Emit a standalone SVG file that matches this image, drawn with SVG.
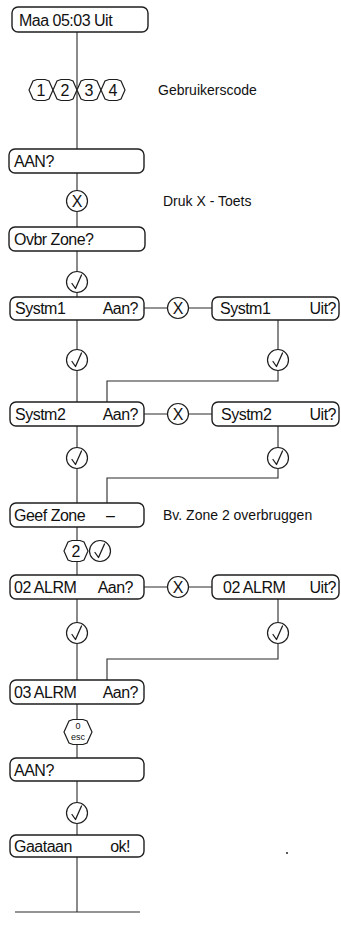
<svg xmlns="http://www.w3.org/2000/svg" xmlns:xlink="http://www.w3.org/1999/xlink" width="341" height="935" viewBox="0 0 341 935">
<style>
.bg{fill:#ffffff}
.ln{stroke:#2a2a2a;stroke-width:1.1;fill:none}
.box{fill:#ffffff;stroke:#1e1e1e;stroke-width:1.4}
.key{fill:#ffffff;stroke:#1e1e1e;stroke-width:1.2}
.ck{fill:none;stroke:#1e1e1e;stroke-width:1.3;stroke-linecap:round;stroke-linejoin:round}
.t{font-family:"Liberation Sans",Arial,sans-serif;font-size:16px;letter-spacing:-0.5px;fill:#111}
.te{text-anchor:end}
.a{font-family:"Liberation Sans",Arial,sans-serif;font-size:14px;fill:#111}
.k{font-family:"Liberation Sans",Arial,sans-serif;font-size:16px;fill:#111;text-anchor:middle}
.s{font-family:"Liberation Sans",Arial,sans-serif;font-size:9px;fill:#111;text-anchor:middle}
</style>
<defs>
<g id="chk"><circle class="key" r="10.5"/><path class="ck" d="M-5,1.5 L-1.5,6.5 L4.5,-7"/></g>
<g id="xk"><circle class="key" r="10.5"/><text class="k" y="6">X</text></g>
<polygon id="hx" class="key" points="-12,0 -8,-9 -4,-10.5 4,-10.5 8,-9 12,0 8,9 4,10.5 -4,10.5 -8,9"/>
</defs>
<rect class="bg" x="0" y="0" width="341" height="935"/>

<g id="connectors">
<path class="ln" d="M77,32 V912"/>
<path class="ln" d="M15,912 H140"/>
<path class="ln" d="M144,308 H212"/>
<path class="ln" d="M278,320 V381 H107 V402"/>
<path class="ln" d="M144,414 H212"/>
<path class="ln" d="M278,426 V478 H107 V503"/>
<path class="ln" d="M144,587 H212"/>
<path class="ln" d="M278,599 V659 H107 V680"/>
</g>

<g id="n-maa"><rect class="box" x="12" y="7" width="136" height="25" rx="6"/><text class="t" x="19" y="26">Maa 05:03 Uit</text></g>

<g id="n-code">
<g transform="translate(41,90)"><use xlink:href="#hx"/><text class="k" y="6">1</text></g>
<g transform="translate(65,90)"><use xlink:href="#hx"/><text class="k" y="6">2</text></g>
<g transform="translate(89,90)"><use xlink:href="#hx"/><text class="k" y="6">3</text></g>
<g transform="translate(113,90)"><use xlink:href="#hx"/><text class="k" y="6">4</text></g>
</g>
<text class="a" x="158" y="95">Gebruikerscode</text>

<g id="n-aan1"><rect class="box" x="9" y="149" width="135" height="24" rx="6"/><text class="t" x="14" y="167">AAN?</text></g>

<g id="n-x1"><use xlink:href="#xk" x="77" y="201"/></g>
<text class="a" x="163" y="206">Druk X - Toets</text>

<g id="n-ovbr"><rect class="box" x="9" y="227" width="136" height="24" rx="6"/><text class="t" x="14" y="245">Ovbr Zone?</text></g>

<g id="n-c1"><use xlink:href="#chk" x="77" y="282"/></g>

<g id="n-s1aan"><rect class="box" x="10" y="297" width="134" height="23" rx="6"/><text class="t" x="15" y="314">Systm1</text><text class="t te" x="138" y="314">Aan?</text></g>
<g id="n-x2"><use xlink:href="#xk" x="178" y="308"/></g>
<g id="n-s1uit"><rect class="box" x="212" y="297" width="127" height="23" rx="6"/><text class="t" x="220" y="314">Systm1</text><text class="t te" x="336" y="314">Uit?</text></g>

<g id="n-c2"><use xlink:href="#chk" x="77" y="360"/></g>
<g id="n-c3"><use xlink:href="#chk" x="278" y="360"/></g>

<g id="n-s2aan"><rect class="box" x="10" y="402" width="134" height="24" rx="6"/><text class="t" x="15" y="420">Systm2</text><text class="t te" x="138" y="420">Aan?</text></g>
<g id="n-x3"><use xlink:href="#xk" x="178" y="414"/></g>
<g id="n-s2uit"><rect class="box" x="212" y="402" width="127" height="24" rx="6"/><text class="t" x="221" y="420">Systm2</text><text class="t te" x="336" y="420">Uit?</text></g>

<g id="n-c4"><use xlink:href="#chk" x="77" y="458"/></g>
<g id="n-c5"><use xlink:href="#chk" x="278" y="458"/></g>

<g id="n-geef"><rect class="box" x="10" y="503" width="134" height="24" rx="6"/><text class="t" x="14" y="521">Geef Zone</text><text class="t" x="106" y="521">–</text></g>
<text class="a" x="163" y="520">Bv. Zone 2 overbruggen</text>

<g id="n-k2"><g transform="translate(76,551)"><use xlink:href="#hx"/><text class="k" y="6">2</text></g><use xlink:href="#chk" x="100" y="551"/></g>

<g id="n-a2aan"><rect class="box" x="10" y="575" width="134" height="24" rx="6"/><text class="t" x="14" y="593">02 ALRM</text><text class="t te" x="133" y="593">Aan?</text></g>
<g id="n-x4"><use xlink:href="#xk" x="178" y="587"/></g>
<g id="n-a2uit"><rect class="box" x="212" y="575" width="127" height="24" rx="6"/><text class="t" x="223" y="593">02 ALRM</text><text class="t te" x="336" y="593">Uit?</text></g>

<g id="n-c6"><use xlink:href="#chk" x="77" y="633"/></g>
<g id="n-c7"><use xlink:href="#chk" x="278" y="633"/></g>

<g id="n-a3aan"><rect class="box" x="10" y="680" width="134" height="24" rx="6"/><text class="t" x="14" y="698">03 ALRM</text><text class="t te" x="138" y="698">Aan?</text></g>

<g id="n-esc"><polygon class="key" points="64,732 69,721 73,719.5 83,719.5 87,721 92,732 87,743 83,744.5 73,744.5 69,743"/><text class="s" x="78" y="729">0</text><text class="s" x="78" y="740">esc</text></g>

<g id="n-aan2"><rect class="box" x="10" y="758" width="134" height="23" rx="6"/><text class="t" x="14" y="776">AAN?</text></g>

<g id="n-c8"><use xlink:href="#chk" x="77" y="813"/></g>

<g id="n-ok"><rect class="box" x="10" y="835" width="134" height="22" rx="6"/><text class="t" x="14" y="852">Gaataan</text><text class="t te" x="130" y="852">ok!</text></g>

<circle cx="287" cy="853" r="1.1" fill="#333"/>
</svg>
